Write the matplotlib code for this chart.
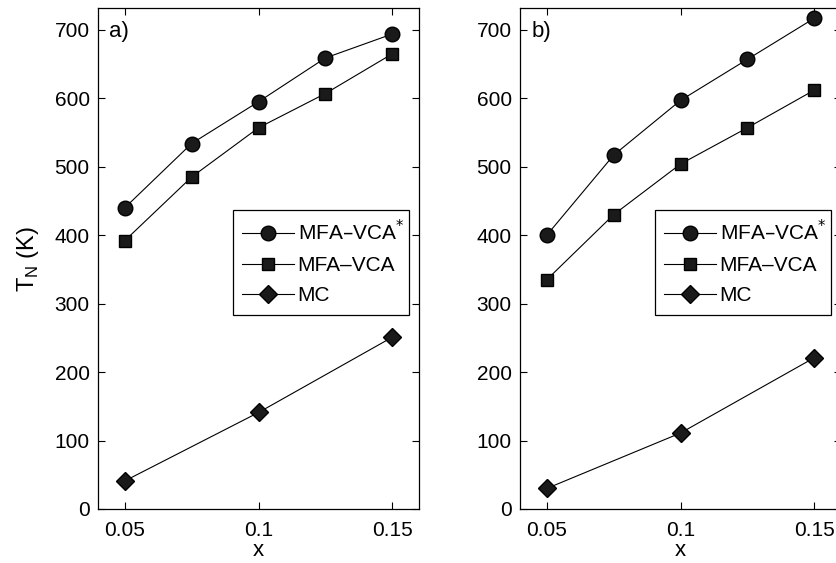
import matplotlib
matplotlib.use('Agg')
import matplotlib.pyplot as plt

plt.rcParams['font.family'] = ['Liberation Sans', 'DejaVu Sans']
plt.rcParams['font.size'] = 15

x_full = [0.05, 0.075, 0.1, 0.125, 0.15]
x_mc = [0.05, 0.1, 0.15]

# panel a)
a_star = [440, 534, 595, 659, 694]
a_vca = [392, 485, 557, 607, 665]
a_mc = [41, 141, 251]

# panel b)
b_star = [400, 517, 597, 657, 717]
b_vca = [335, 430, 504, 557, 612]
b_mc = [30, 111, 221]

labels = ['MFA\u2013VCA$^{*}$', 'MFA\u2013VCA', 'MC']
xticks = [0.05, 0.1, 0.15]
xticklabels = ['0.05', '0.1', '0.15']
yticks = [0, 100, 200, 300, 400, 500, 600, 700]

fig = plt.figure(figsize=(8.36, 5.63), dpi=100)
W, H = 836, 563
ax_a = fig.add_axes([98 / W, 1 - 509 / H, 321 / W, 501 / H])
ax_b = fig.add_axes([520 / W, 1 - 509 / H, 321 / W, 501 / H])

panels = [(ax_a, a_star, a_vca, a_mc, 'a)', (233, 210, 409, 317)),
          (ax_b, b_star, b_vca, b_mc, 'b)', (655, 210, 831, 317))]

for ax, s, v, m, tag, lb in panels:
    kw = dict(color='k', lw=0.8, markerfacecolor='#1a1a1a', markeredgecolor='k')
    ax.plot(x_full, s, marker='o', ms=10.5, label=labels[0], **kw)
    ax.plot(x_full, v, marker='s', ms=9, label=labels[1], **kw)
    ax.plot(x_mc, m, marker='D', ms=9, label=labels[2], **kw)
    ax.set_xlim(0.04, 0.16)
    ax.set_ylim(0, 732)
    ax.set_xticks(xticks)
    ax.set_xticklabels(xticklabels)
    ax.set_yticks(yticks)
    ax.tick_params(direction='in', top=True, right=True, length=5, width=0.8)
    ax.tick_params(axis='x', pad=9)
    ax.tick_params(axis='y', pad=6)
    for sp in ax.spines.values():
        sp.set_linewidth(0.9)
    ax.set_xlabel('x', labelpad=0, fontsize=16)
    ax.text(0.035, 0.975, tag, transform=ax.transAxes, ha='left', va='top', fontsize=16)
    # legend box in figure pixel coords
    x0, y0, x1, y1 = lb
    leg = ax.legend(loc='upper left',
                    bbox_to_anchor=(x0 / W, 1 - y1 / H, (x1 - x0) / W, (y1 - y0) / H),
                    bbox_transform=fig.transFigure, mode='expand', fancybox=False, framealpha=1,
                    edgecolor='k', handlelength=2.5, handletextpad=0.15, borderaxespad=0,
                    borderpad=0.45, labelspacing=0.55, fontsize=15)
    leg.get_frame().set_linewidth(0.9)

ax_a.set_ylabel('T$_\\mathregular{N}$ (K)', labelpad=10, fontsize=17)

fig.savefig('out.png', dpi=100)
